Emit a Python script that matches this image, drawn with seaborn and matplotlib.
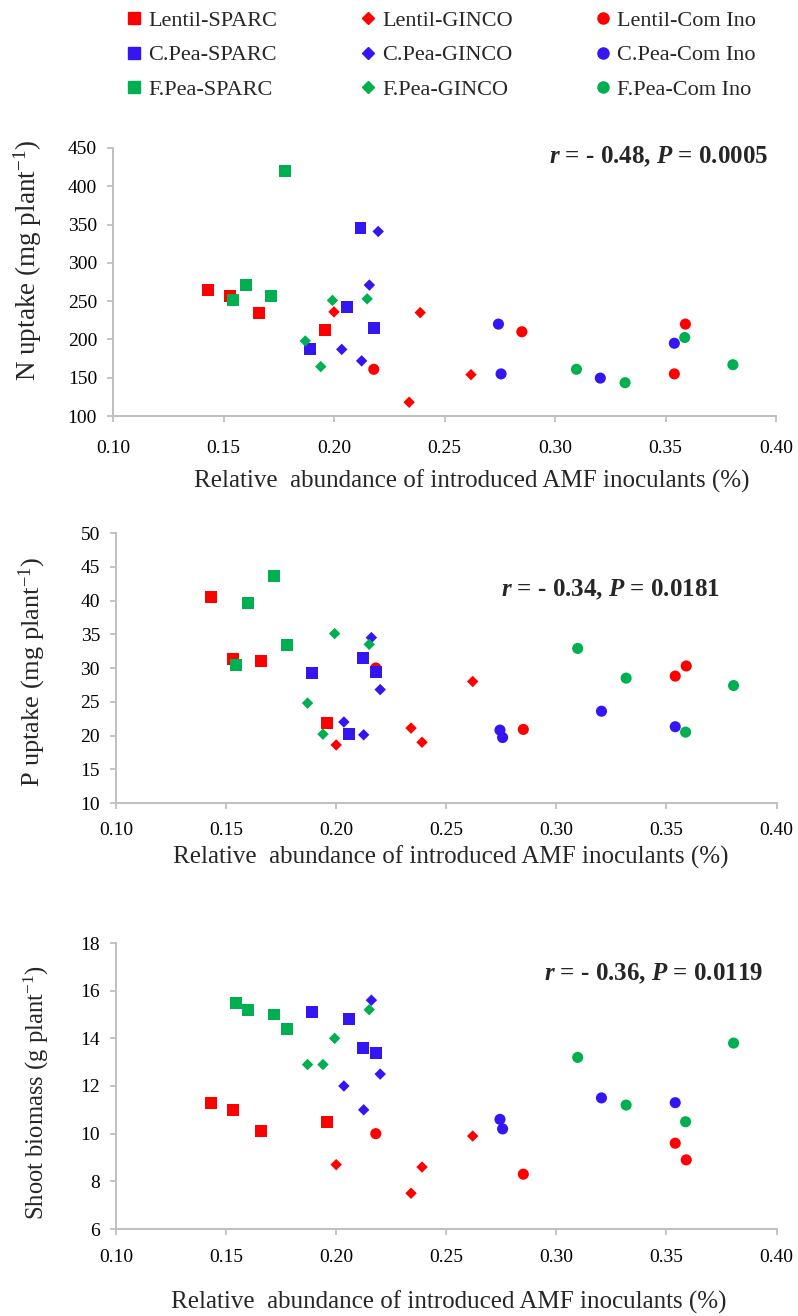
import matplotlib
matplotlib.use("Agg")
import matplotlib.pyplot as plt
import seaborn as sns
import pandas as pd
from matplotlib.lines import Line2D
from matplotlib.ticker import FormatStrFormatter, MultipleLocator

# ---------------- data ----------------
crops = ["Lentil", "C.Pea", "F.Pea"]
inoculants = ["SPARC", "GINCO", "Com Ino"]

# relative abundance of introduced AMF inoculants (x), shared by all panels
lentil_sparc_x = [0.143, 0.153, 0.166, 0.196]
lentil_ginco_x = [0.200, 0.234, 0.239, 0.262]
lentil_com_x = [0.218, 0.285, 0.359, 0.354]
cpea_sparc_x = [0.189, 0.206, 0.212, 0.218]
cpea_ginco_x = [0.2035, 0.2125, 0.216, 0.220]
cpea_com_x = [0.2744, 0.2756, 0.3205, 0.354]
fpea_sparc_x = [0.1544, 0.160, 0.1717, 0.1778]
fpea_ginco_x = [0.187, 0.194, 0.1993, 0.215]
fpea_com_x = [0.3097, 0.3317, 0.3587, 0.3805]

# N uptake (mg plant-1)
lentil_sparc_n = [264, 257, 234, 212]
lentil_ginco_n = [236, 118, 235, 154]
lentil_com_n = [161, 210, 220, 155]
cpea_sparc_n = [187.5, 242, 345, 215.5]
cpea_ginco_n = [187, 172, 271, 341]
cpea_com_n = [220, 155, 149.5, 195]
fpea_sparc_n = [252, 271, 256.5, 419.5]
fpea_ginco_n = [198, 164.5, 251, 253]
fpea_com_n = [161, 143.5, 202.5, 167]

# P uptake (mg plant-1)
lentil_sparc_p = [40.5, 31.3, 31.0, 21.8]
lentil_ginco_p = [18.6, 21.1, 19.0, 28.0]
lentil_com_p = [30.0, 20.9, 30.3, 28.8]
cpea_sparc_p = [29.2, 20.2, 31.5, 29.4]
cpea_ginco_p = [22.0, 20.1, 34.5, 26.8]
cpea_com_p = [20.8, 19.7, 23.6, 21.3]
fpea_sparc_p = [30.4, 39.6, 43.6, 33.4]
fpea_ginco_p = [24.8, 20.2, 35.1, 33.5]
fpea_com_p = [32.9, 28.5, 20.5, 27.4]

# Shoot biomass (g plant-1)
lentil_sparc_b = [11.3, 11.0, 10.1, 10.5]
lentil_ginco_b = [8.7, 7.5, 8.6, 9.9]
lentil_com_b = [10.0, 8.3, 8.9, 9.6]
cpea_sparc_b = [15.1, 14.8, 13.6, 13.4]
cpea_ginco_b = [12.0, 11.0, 15.6, 12.5]
cpea_com_b = [10.6, 10.2, 11.5, 11.3]
fpea_sparc_b = [15.5, 15.2, 15.0, 14.4]
fpea_ginco_b = [12.9, 12.9, 14.0, 15.2]
fpea_com_b = [13.2, 11.2, 10.5, 13.8]

x_ticks = [0.10, 0.15, 0.20, 0.25, 0.30, 0.35, 0.40]
stats_text = [r"$\mathit{r}$ = - 0.48, $\mathit{P}$ = 0.0005",
              r"$\mathit{r}$ = - 0.34, $\mathit{P}$ = 0.0181",
              r"$\mathit{r}$ = - 0.36, $\mathit{P}$ = 0.0119"]
y_labels = [r"N uptake (mg plant$\mathregular{^{-1}}$)",
            r"P uptake (mg plant$\mathregular{^{-1}}$)",
            r"Shoot biomass (g plant$\mathregular{^{-1}}$)"]
x_label = "Relative  abundance of introduced AMF inoculants (%)"

# ---------------- assemble ----------------
groups = [
    ("Lentil", "SPARC", lentil_sparc_x, lentil_sparc_n, lentil_sparc_p, lentil_sparc_b),
    ("Lentil", "GINCO", lentil_ginco_x, lentil_ginco_n, lentil_ginco_p, lentil_ginco_b),
    ("Lentil", "Com Ino", lentil_com_x, lentil_com_n, lentil_com_p, lentil_com_b),
    ("C.Pea", "SPARC", cpea_sparc_x, cpea_sparc_n, cpea_sparc_p, cpea_sparc_b),
    ("C.Pea", "GINCO", cpea_ginco_x, cpea_ginco_n, cpea_ginco_p, cpea_ginco_b),
    ("C.Pea", "Com Ino", cpea_com_x, cpea_com_n, cpea_com_p, cpea_com_b),
    ("F.Pea", "SPARC", fpea_sparc_x, fpea_sparc_n, fpea_sparc_p, fpea_sparc_b),
    ("F.Pea", "GINCO", fpea_ginco_x, fpea_ginco_n, fpea_ginco_p, fpea_ginco_b),
    ("F.Pea", "Com Ino", fpea_com_x, fpea_com_n, fpea_com_p, fpea_com_b),
]
rows = []
for crop, inoc, xs, ns, ps, bs in groups:
    for xv, nv, pv, bv in zip(xs, ns, ps, bs):
        rows.append({"crop": crop, "inoc": inoc, "x": xv, "N": nv, "P": pv, "B": bv})
df = pd.DataFrame(rows)

crop_colors = {"Lentil": "#FF0000", "C.Pea": "#3316F2", "F.Pea": "#00B050"}
inoc_markers = {"SPARC": "s", "GINCO": "D", "Com Ino": "o"}
inoc_sizes = {"SPARC": 74, "GINCO": 34, "Com Ino": 64}

# ---------------- style ----------------
sns.set_style("ticks")
plt.rcParams["font.family"] = ["Liberation Serif", "DejaVu Serif"]
plt.rcParams["mathtext.fontset"] = "custom"
plt.rcParams["mathtext.it"] = "Liberation Serif:italic:bold"
plt.rcParams["mathtext.rm"] = "Liberation Serif"
plt.rcParams["mathtext.bf"] = "Liberation Serif:bold"

W, H = 798, 1316
fig = plt.figure(figsize=(W / 100, H / 100), dpi=100)

def px_axes(left, right, top, bottom):
    return fig.add_axes([left / W, 1 - bottom / H, (right - left) / W, (bottom - top) / H])

panels = [
    dict(box=(113, 776, 148, 416), col="N", ylim=(100, 450), ystep=50,
         ylab_xy=(28, 261), ylab_fs=19.5, xlab_xy=(472, 481),
         stat_xy=(0.988, 0.967), xpad=13),
    dict(box=(116, 776.5, 533, 803), col="P", ylim=(10, 50), ystep=5,
         ylab_xy=(32, 672), ylab_fs=19, xlab_xy=(451, 857),
         stat_xy=(0.9145, 0.79), xpad=9),
    dict(box=(116, 776.5, 943, 1229), col="B", ylim=(6, 18), ystep=2,
         ylab_xy=(36, 1093), ylab_fs=17.7, xlab_xy=(449, 1302),
         stat_xy=(0.98, 0.894), xpad=10),
]

grey = "#BFBFBF"
for i, p in enumerate(panels):
    ax = px_axes(*p["box"])
    sns.scatterplot(data=df, x="x", y=p["col"], hue="crop", style="inoc", size="inoc",
                    palette=crop_colors, markers=inoc_markers, sizes=inoc_sizes,
                    linewidth=0, legend=False, ax=ax, zorder=3, clip_on=False)
    ax.set_xlim(0.10, 0.40)
    ax.set_ylim(*p["ylim"])
    ax.set_xticks(x_ticks)
    ax.xaxis.set_major_formatter(FormatStrFormatter("%.2f"))
    ax.yaxis.set_major_locator(MultipleLocator(p["ystep"]))
    ax.set_xlabel("")
    ax.set_ylabel("")
    for s in ["top", "right"]:
        ax.spines[s].set_visible(False)
    for s in ["left", "bottom"]:
        ax.spines[s].set_color(grey)
        ax.spines[s].set_linewidth(1.4)
    ax.tick_params(axis="both", direction="out", length=4.5, width=1.3, color=grey,
                   labelsize=14, labelcolor="black")
    ax.tick_params(axis="y", pad=7)
    ax.tick_params(axis="x", pad=p["xpad"])
    ax.text(p["stat_xy"][0], p["stat_xy"][1], stats_text[i], transform=ax.transAxes,
            ha="right", va="center", fontsize=18, fontweight="bold")
    fig.text(p["xlab_xy"][0] / W, 1 - p["xlab_xy"][1] / H, x_label,
             ha="center", va="center", fontsize=18)
    fig.text(p["ylab_xy"][0] / W, 1 - p["ylab_xy"][1] / H, y_labels[i],
             ha="center", va="center", rotation=90, fontsize=p["ylab_fs"])

# ---------------- legend ----------------
handles, labels = [], []
for inoc in inoculants:
    for crop in crops:
        handles.append(Line2D([], [], linestyle="none", marker=inoc_markers[inoc],
                              color=crop_colors[crop],
                              markersize={"SPARC": 8.5, "GINCO": 6.5, "Com Ino": 8}[inoc]))
        labels.append(f"{crop}-{inoc}")
fig.legend(handles, labels, ncol=3, loc="upper left",
           bbox_to_anchor=(113 / W, 1 + 4 / H), frameon=False, fontsize=16,
           handlelength=0.6, handletextpad=0.35, columnspacing=3.75,
           labelspacing=0.62, borderpad=0.15)

fig.savefig("out.png", dpi=100)
